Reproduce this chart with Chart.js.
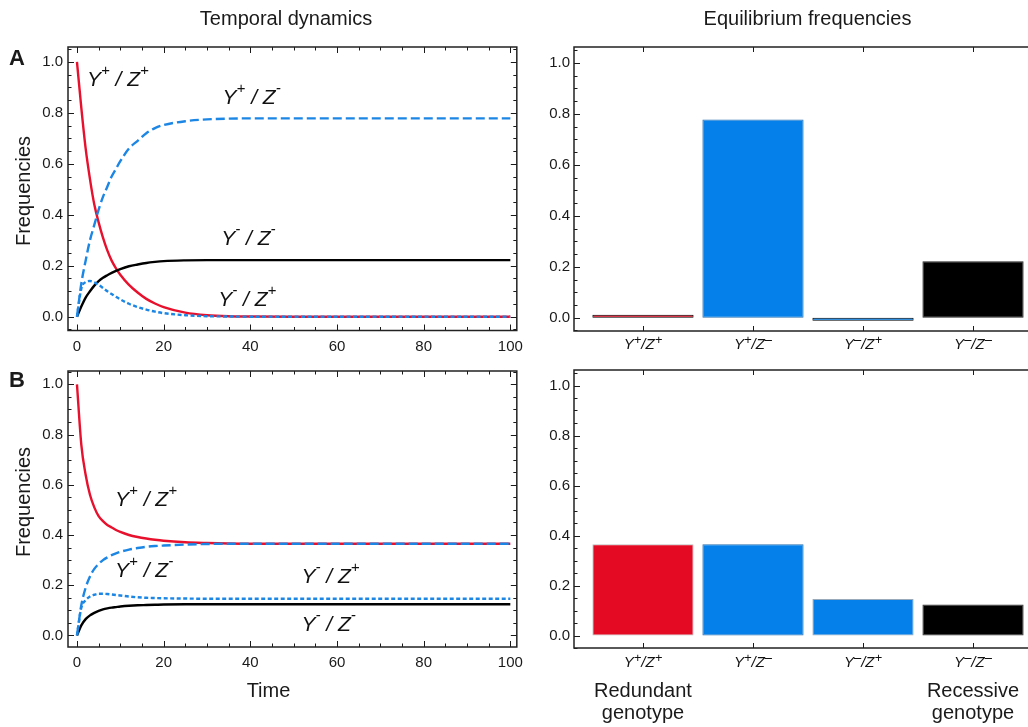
<!DOCTYPE html>
<html>
<head>
<meta charset="utf-8">
<script src="https://cdn.jsdelivr.net/npm/chart.js@4"></script>
<style>
html,body{margin:0;padding:0;background:#fff;overflow:hidden}
#wrap{position:relative;width:1028px;height:727px;overflow:hidden;background:#fff}
canvas{position:absolute}
</style>
</head>
<body>
<div id="wrap">
  <canvas id="tA" width="530" height="357" style="left:0;top:0"></canvas>
  <canvas id="eA" width="530" height="357" style="left:530px;top:0"></canvas>
  <canvas id="tB" width="530" height="370" style="left:0;top:357px"></canvas>
  <canvas id="eB" width="530" height="370" style="left:530px;top:357px"></canvas>
</div>
<script>
// time points
const time = [0,1,2,3,4,5,6,7,8,9,10,12,14,16,18,20,25,30,35,40,50,60,70,80,90,100];

// panel A: temporal dynamics
const redA   = [1.0,0.82,0.66,0.54,0.44,0.37,0.31,0.26,0.22,0.19,0.165,0.125,0.095,0.07,0.052,0.038,0.016,0.006,0.002,0.001,0,0,0,0,0,0];
const dashA  = [0,0.13,0.22,0.30,0.36,0.42,0.47,0.51,0.55,0.58,0.61,0.66,0.69,0.72,0.74,0.752,0.767,0.774,0.777,0.778,0.778,0.778,0.778,0.778,0.778,0.778];
const dotA   = [0,0.11,0.136,0.14,0.135,0.125,0.113,0.10,0.089,0.078,0.068,0.051,0.038,0.028,0.02,0.014,0.006,0.002,0.001,0,0,0,0,0,0,0];
const blackA = [0,0.04,0.075,0.10,0.122,0.14,0.153,0.163,0.172,0.18,0.187,0.198,0.205,0.211,0.215,0.218,0.221,0.222,0.222,0.222,0.222,0.222,0.222,0.222,0.222,0.222];

// panel B: temporal dynamics
const redB   = [1.0,0.76,0.64,0.56,0.51,0.475,0.455,0.44,0.43,0.42,0.412,0.40,0.392,0.386,0.381,0.377,0.371,0.368,0.366,0.365,0.365,0.365,0.365,0.365,0.365,0.365];
const dashB  = [0,0.12,0.19,0.235,0.265,0.285,0.30,0.311,0.32,0.327,0.333,0.342,0.348,0.353,0.356,0.358,0.362,0.364,0.365,0.365,0.365,0.365,0.365,0.365,0.365,0.365];
const dotB   = [0,0.11,0.14,0.155,0.162,0.166,0.166,0.165,0.163,0.161,0.159,0.155,0.152,0.15,0.149,0.148,0.147,0.146,0.146,0.146,0.146,0.146,0.146,0.146,0.146,0.146];
const blackB = [0,0.04,0.065,0.08,0.09,0.098,0.104,0.108,0.111,0.113,0.115,0.118,0.12,0.121,0.122,0.123,0.124,0.124,0.124,0.124,0.124,0.124,0.124,0.124,0.124,0.124];

// equilibrium frequencies
const genotypes = [['+','+'],['+','-'],['-','+'],['-','-']];
const eqA = [0.005,0.778,-0.003,0.222];
const eqB = [0.365,0.365,0.146,0.124];

// tick labels
const tTicks = [0,20,40,60,80,100];
const fTicks = [0,0.2,0.4,0.6,0.8,1.0];
const gTicks = [0,1,2,3];

const RED = '#e8112d', BLUE = '#1c86e5', BLK = '#000';
const BAR_RED = '#e50a24', BAR_BLUE = '#0580ea';
const FONT = '"Liberation Sans", Arial, Helvetica, sans-serif';
const INK = '#1a1a1a';
Chart.defaults.font.family = FONT;
Chart.defaults.color = INK;

function range(min, max, step){
  const out = [];
  for(let k = Math.ceil(min/step - 1e-9); k*step <= max + 1e-9; k++) out.push(+(k*step).toFixed(6));
  return out;
}

// Mathematica-like frame with inward ticks on all sides
const framePlugin = {
  id: 'frame',
  afterDatasetsDraw(chart, args, o){
    const {ctx, chartArea: a, scales: {x, y}} = chart;
    ctx.save();
    ctx.strokeStyle = INK;
    ctx.lineWidth = 1;
    const line = (x1,y1,x2,y2)=>{ctx.beginPath();ctx.moveTo(x1,y1);ctx.lineTo(x2,y2);ctx.stroke();};
    const xt = (v,len)=>{const p = Math.round(x.getPixelForValue(v))+0.5; line(p,a.bottom,p,a.bottom-len); line(p,a.top,p,a.top+len);};
    const yt = (v,len)=>{const p = Math.round(y.getPixelForValue(v))+0.5; line(a.left,p,a.left+len,p); line(a.right,p,a.right-len,p);};
    if(o.xValues){ o.xValues.forEach(v=>xt(v,5)); }
    else {
      range(x.min, x.max, o.xMinor).forEach(v=>xt(v,3.5));
      range(x.min, x.max, o.xMajor).forEach(v=>xt(v,6));
    }
    range(y.min, y.max, 0.05).forEach(v=>yt(v,3.5));
    range(y.min, y.max, 0.2).forEach(v=>yt(v,6));
    ctx.lineWidth = 1.5;
    ctx.strokeStyle = '#222';
    ctx.strokeRect(a.left, a.top, a.right-a.left, a.bottom-a.top);
    ctx.restore();
  }
};

function textPlugin(fn){
  return {id:'txt', afterDraw(chart){ const c = chart.ctx; c.save(); fn(chart, c); c.restore(); }};
}

function txt(ctx, s, x, y, font, align){
  ctx.font = font; ctx.fillStyle = INK; ctx.textAlign = align || 'left'; ctx.textBaseline = 'alphabetic';
  ctx.fillText(s, x, y);
}

// Y^a / Z^b with superscripts
function geno(ctx, x, y, s, o){
  const sup = ch => ch === '+' ? '+' : o.minus;
  const parts = [['Y',0],[sup(s[0]),1],[o.spaced ? ' / ' : '/',0],['Z',0],[sup(s[1]),1]];
  const fb = `italic ${o.size}px ${FONT}`, fs = `italic ${o.sup}px ${FONT}`;
  let w = 0;
  const ws = parts.map(([t,k])=>{ctx.font = k ? fs : fb; const m = ctx.measureText(t).width; w += m; return m;});
  let cx = o.center ? x - w/2 : x;
  ctx.fillStyle = '#111'; ctx.textAlign = 'left'; ctx.textBaseline = 'alphabetic';
  parts.forEach(([t,k],i)=>{ ctx.font = k ? fs : fb; ctx.fillText(t, cx, k ? y - o.rise : y); cx += ws[i]; });
}
const CURVE_LBL = {size:21, sup:15, rise:11, spaced:true, minus:'-'};
const BAR_LBL = {size:15, sup:13, rise:5, spaced:false, minus:'\u2013', center:true};

function vertical(ctx, s, x, y){
  ctx.save(); ctx.translate(x, y); ctx.rotate(-Math.PI/2);
  ctx.font = `20px ${FONT}`; ctx.fillStyle = INK; ctx.textAlign = 'center'; ctx.textBaseline = 'middle';
  ctx.fillText(s, 0, 0); ctx.restore();
}

function lineChart(id, series, yMin, yMax, pad, xH, labels, extra){
  return new Chart(document.getElementById(id), {
    type: 'line',
    data: {datasets: series.map(s=>({
      data: time.map((t,i)=>({x:t, y:s.values[i]})),
      borderColor: s.color, borderDash: s.dash, borderWidth: 2.4,
      pointRadius: 0, cubicInterpolationMode: 'monotone', fill: false, order: s.order
    }))},
    options: {
      responsive: false, animation: false, devicePixelRatio: 1,
      layout: {padding: pad},
      plugins: {legend: {display: false}, tooltip: {enabled: false}, frame: {xMajor: 20, xMinor: 5}},
      scales: {
        x: {type: 'linear', min: -2.07, max: 101.5,
            grid: {display: false, drawTicks: false}, border: {display: false},
            afterBuildTicks: sc => { sc.ticks = tTicks.map(v=>({value:v})); },
            afterFit: sc => { sc.height = xH; },
            ticks: {font: {size: 15}, padding: 7, maxRotation: 0, autoSkip: false, callback: v => String(v)}},
        y: {type: 'linear', min: yMin, max: yMax,
            grid: {display: false, drawTicks: false}, border: {display: false},
            afterBuildTicks: sc => { sc.ticks = fTicks.map(v=>({value:v})); },
            afterFit: sc => { sc.width = 68; },
            ticks: {font: {size: 15}, padding: 5, callback: v => v.toFixed(1)}}
      }
    },
    plugins: [framePlugin, textPlugin((chart, ctx)=>{
      const {x, y} = chart.scales;
      labels.forEach(l => geno(ctx, x.getPixelForValue(l.t), y.getPixelForValue(l.v), l.s, CURVE_LBL));
      extra(ctx);
    })]
  });
}

function barChart(id, values, colors, borders, yMin, yMax, pad, xH, lblY, extra){
  return new Chart(document.getElementById(id), {
    type: 'bar',
    data: {datasets: [{
      data: values.map((v,i)=>({x:i, y:v})),
      backgroundColor: colors, borderColor: borders, borderWidth: 1, borderSkipped: false,
      barPercentage: 0.92, categoryPercentage: 1, minBarLength: 3
    }]},
    options: {
      responsive: false, animation: false, devicePixelRatio: 1,
      layout: {padding: pad},
      plugins: {legend: {display: false}, tooltip: {enabled: false}, frame: {xValues: gTicks}},
      scales: {
        x: {type: 'linear', min: -0.627, max: 3.627, offset: false,
            grid: {display: false, drawTicks: false, offset: false}, border: {display: false},
            afterBuildTicks: sc => { sc.ticks = gTicks.map(v=>({value:v})); },
            ticks: {display: false},
            afterFit: sc => { sc.height = xH; }},
        y: {type: 'linear', min: yMin, max: yMax,
            grid: {display: false, drawTicks: false}, border: {display: false},
            afterBuildTicks: sc => { sc.ticks = fTicks.map(v=>({value:v})); },
            afterFit: sc => { sc.width = 44; },
            ticks: {font: {size: 15}, padding: 4, callback: v => v.toFixed(1)}}
      }
    },
    plugins: [framePlugin, textPlugin((chart, ctx)=>{
      const x = chart.scales.x;
      genotypes.forEach((g,i) => geno(ctx, x.getPixelForValue(i), lblY, g, BAR_LBL));
      extra(ctx, x);
    })]
  });
}

// A: temporal dynamics
lineChart('tA', [
  {values: redA, color: RED, dash: [], order: 4},
  {values: blackA, color: BLK, dash: [], order: 3},
  {values: dashA, color: BLUE, dash: [9,4], order: 1},
  {values: dotA, color: BLUE, dash: [4,2.5], order: 2}
], -0.054, 1.058, {top: 47, right: 12, left: 0, bottom: 0}, 26.5, [
  {s: ['+','+'], t: 2.3, v: 0.905},
  {s: ['+','-'], t: 33.6, v: 0.834},
  {s: ['-','-'], t: 33.3, v: 0.281},
  {s: ['-','+'], t: 32.6, v: 0.042}
], ctx => {
  txt(ctx, 'Temporal dynamics', 286, 25, `20px ${FONT}`, 'center');
  txt(ctx, 'A', 9, 65, `bold 22px ${FONT}`);
  vertical(ctx, 'Frequencies', 24, 191);
});

// B: temporal dynamics
lineChart('tB', [
  {values: redB, color: RED, dash: [], order: 4},
  {values: blackB, color: BLK, dash: [], order: 3},
  {values: dashB, color: BLUE, dash: [9,4], order: 1},
  {values: dotB, color: BLUE, dash: [4,2.5], order: 2}
], -0.046, 1.053, {top: 8, right: 12, left: 0, bottom: 0}, 80, [
  {s: ['+','+'], t: 8.8, v: 0.515},
  {s: ['+','-'], t: 8.8, v: 0.231},
  {s: ['-','+'], t: 51.8, v: 0.207},
  {s: ['-','-'], t: 51.8, v: 0.017}
], ctx => {
  txt(ctx, 'B', 9, 30, `bold 22px ${FONT}`);
  vertical(ctx, 'Frequencies', 24, 145);
  txt(ctx, 'Time', 268.5, 340, `20px ${FONT}`, 'center');
});

// A: equilibrium frequencies
barChart('eA', eqA, [BAR_RED, BAR_BLUE, BAR_BLUE, BLK], ['#000', '#2a6fb0', '#000', '#222'],
  -0.052, 1.062, {top: 47, right: 18, left: 0, bottom: 0}, 26, 349, ctx => {
  txt(ctx, 'Equilibrium frequencies', 277.5, 25, `20px ${FONT}`, 'center');
});

// B: equilibrium frequencies
barChart('eB', eqB, [BAR_RED, BAR_BLUE, BAR_BLUE, BLK], ['#bdbdbd', '#2a6fb0', '#9ab', '#333'],
  -0.05, 1.062, {top: 8, right: 18, left: 0, bottom: 0}, 79, 310, (ctx, x) => {
  const f = `20px ${FONT}`;
  txt(ctx, 'Redundant', x.getPixelForValue(0), 340, f, 'center');
  txt(ctx, 'genotype', x.getPixelForValue(0), 362, f, 'center');
  txt(ctx, 'Recessive', x.getPixelForValue(3), 340, f, 'center');
  txt(ctx, 'genotype', x.getPixelForValue(3), 362, f, 'center');
});
</script>
</body>
</html>
